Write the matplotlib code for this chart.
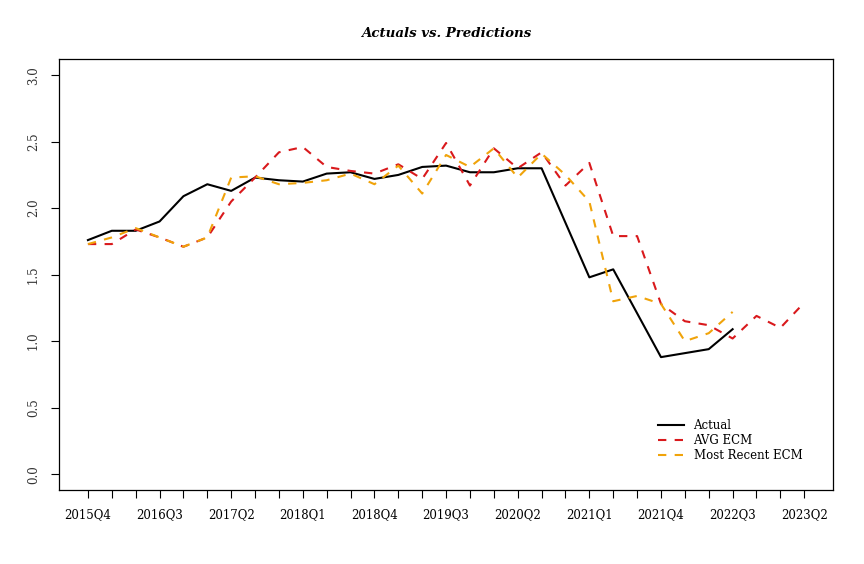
import numpy as np
import matplotlib
matplotlib.use("Agg")
import matplotlib.pyplot as plt

# quarters 2015Q4 .. 2023Q2
quarters = []
y, q = 2015, 4
while (y, q) <= (2023, 2):
    quarters.append(f"{y}Q{q}")
    q += 1
    if q > 4:
        y, q = y + 1, 1

actual = [1.76, 1.83, 1.83, 1.90, 2.09, 2.18, 2.13, 2.23, 2.21, 2.20,
          2.26, 2.27, 2.22, 2.25, 2.31, 2.32, 2.27, 2.27, 2.30, 2.30,
          1.89, 1.48, 1.54, 1.21, 0.88, 0.91, 0.94, 1.09]
avg_ecm = [1.73, 1.73, 1.84, 1.78, 1.71, 1.78, 2.05, 2.23, 2.42, 2.46,
           2.31, 2.28, 2.26, 2.33, 2.22, 2.49, 2.17, 2.45, 2.30, 2.42,
           2.17, 2.34, 1.79, 1.79, 1.28, 1.15, 1.12, 1.02, 1.19, 1.10, 1.29]
recent_ecm = [1.73, 1.78, 1.85, 1.78, 1.71, 1.78, 2.23, 2.24, 2.18, 2.19,
              2.21, 2.26, 2.18, 2.32, 2.11, 2.40, 2.31, 2.45, 2.23, 2.41,
              2.25, 2.05, 1.30, 1.34, 1.28, 1.00, 1.06, 1.22]

font = "DejaVu Serif"
plt.rcParams['font.family'] = font

fig = plt.figure(figsize=(8.64, 5.64), dpi=100)
ax = fig.add_axes([0.0686, 0.131, 0.8954, 0.764])

ax.plot(range(len(actual)), actual, color="black", lw=1.5, label="Actual")
ax.plot(range(len(avg_ecm)), avg_ecm, color="#d9191c", lw=1.5,
        dashes=(4, 4), label="AVG ECM")
ax.plot(range(len(recent_ecm)), recent_ecm, color="#f0a30a", lw=1.5,
        dashes=(4, 4), label="Most Recent ECM")

n = len(quarters)
ax.set_xlim(-0.04 * (n - 1), (n - 1) * 1.04)
ax.set_ylim(-0.12, 3.12)
ax.set_xticks(range(n))
ax.set_xticklabels([lab if i % 3 == 0 else "" for i, lab in enumerate(quarters)])
ax.set_yticks(np.arange(0, 3.01, 0.5))
ax.set_yticklabels([f"{v:.1f}" for v in np.arange(0, 3.01, 0.5)],
                   rotation=90, va="center")
ax.tick_params(axis="both", direction="out", length=6, width=0.8,
               labelsize=8.5, colors="black")
ax.tick_params(axis="x", pad=7)
ax.tick_params(axis="y", pad=8, labelcolor="#333333")
for s in ax.spines.values():
    s.set_linewidth(0.9)

ax.set_title("Actuals vs. Predictions", fontsize=9.6, fontweight="bold",
             fontstyle="italic", pad=16)

ax.legend(loc="lower left", bbox_to_anchor=(0.768, 0.055), frameon=False,
          fontsize=8.5, handlelength=2.2, labelspacing=0.15, borderaxespad=0)

fig.savefig("out.png", dpi=100)
